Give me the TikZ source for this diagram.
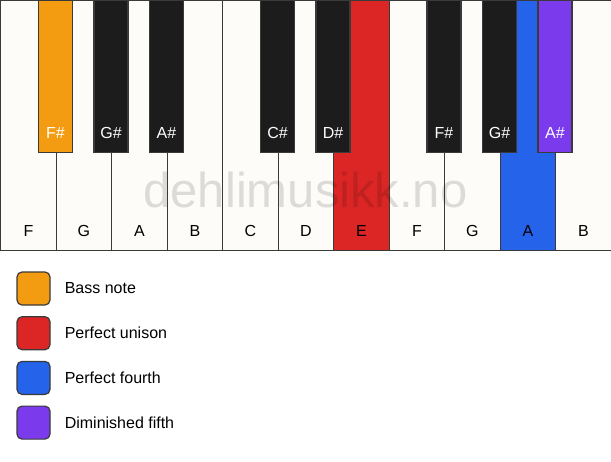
\documentclass[tikz,border=0pt]{standalone}
\usepackage{fontspec}
\setmainfont{Liberation Sans}
\usetikzlibrary{positioning}
\definecolor{ivory}{HTML}{FDFCF8}
\definecolor{ebony}{HTML}{1C1C1C}
\definecolor{keyline}{HTML}{3A3A3A}
\definecolor{bass}{HTML}{F39C12}
\definecolor{unison}{HTML}{DC2626}
\definecolor{fourth}{HTML}{2563EB}
\definecolor{dimfifth}{HTML}{7C3AED}
\tikzset{whitekey/.style={draw=keyline, line width=1.4pt, minimum width=55.5pt, minimum height=250pt, inner sep=0pt, anchor=north west},
blackkey/.style={draw=keyline, line width=1.4pt, minimum width=34pt, minimum height=152pt, inner sep=0pt, anchor=north},
keylabel/.style={font=\fontsize{16}{19}\selectfont, inner sep=0pt},
%legend squares
swatch/.style={draw=keyline, line width=1.2pt, rounded corners=5pt, minimum size=33pt, inner sep=0pt}}

\begin{document}
\begin{tikzpicture}[x=1pt,y=-1pt]
\useasboundingbox[fill=white] (0,0) rectangle (611,461);

\foreach \n/\c [count=\i from 0] in {F/ivory,G/ivory,A/ivory,B/ivory,C/ivory,D/ivory,E/unison,F/ivory,G/ivory,A/fourth,B/ivory}{
  \node[whitekey, fill=\c] (w\i) at (55.5*\i,0) {};
  \node[keylabel] (lw\i) at ([yshift=20pt]w\i.south) {\n};
}

\foreach \b/\n/\c in {1/F\#/bass,2/G\#/ebony,3/A\#/ebony,5/C\#/ebony,6/D\#/ebony,8/F\#/ebony,9/G\#/ebony,10/A\#/dimfifth}{
  \node[blackkey, fill=\c] (b\b) at (55.5*\b,0) {};
  \node[keylabel, text=white] (lb\b) at ([yshift=20pt]b\b.south) {\n};
}

\node[text=black, opacity=0.13, font=\fontsize{49}{49}\selectfont] (mark) at (305.5,190) {dehlimusikk.no};

\foreach \c/\t [count=\i from 0] in {bass/Bass note,unison/Perfect unison,fourth/Perfect fourth,dimfifth/Diminished fifth}{
  \node[swatch, fill=\c] (s\i) at (33.5,288.5+44.7*\i) {};
  \node[keylabel, right=14pt of s\i] (t\i) {\t};
}
\end{tikzpicture}
\end{document}
